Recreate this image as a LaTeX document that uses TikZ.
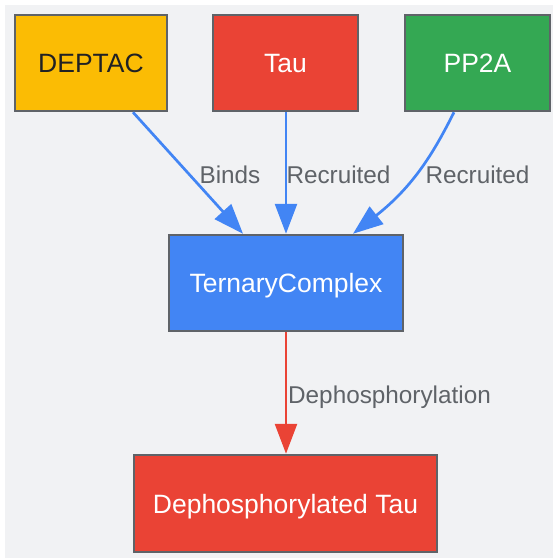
\documentclass[tikz,border=0pt]{standalone}
\usepackage{fontspec}
\setmainfont{Liberation Sans}
\usetikzlibrary{arrows.meta}
\definecolor{bgc}{HTML}{F1F2F4}
\definecolor{gyellow}{HTML}{FBBC04}
\definecolor{gred}{HTML}{EA4335}
\definecolor{ggreen}{HTML}{34A853}
\definecolor{gblue}{HTML}{4285F4}
\definecolor{bord}{HTML}{5F6368}
\definecolor{lab}{HTML}{5F6368}
\definecolor{dark}{HTML}{202124}
\tikzset{
  box/.style={draw=bord, line width=2.5pt, inner sep=0pt, text height=19pt, text depth=0pt,
    font=\fontsize{26.5}{30}\selectfont, minimum height=96pt},
  elab/.style={inner sep=0pt, text height=17.4pt, text depth=0pt, text=lab,
    font=\fontsize{24.3}{28}\selectfont},
  blueedge/.style={draw=gblue, line width=2.7pt, -{Triangle[length=30pt,width=22pt]}},
  rededge/.style={draw=gred, line width=2.7pt, -{Triangle[length=30pt,width=22pt]}},
}
\begin{document}
\begin{tikzpicture}[x=1pt,y=-1pt]
\useasboundingbox (0,0) rectangle (553,558);
\fill[white] (0,0) rectangle (553,558);
\fill[bgc] (5,5) rectangle (553,558);
\node[box, fill=gyellow, text=dark, minimum width=152pt] (dep) at (91,63) {DEPTAC};
\node[box, fill=gred, text=white, minimum width=145pt] (tau) at (285.5,63) {Tau};
\node[box, fill=ggreen, text=white, minimum width=145pt] (pp) at (477.5,63) {PP2A};
\node[box, fill=gblue, text=white, minimum width=234pt] (tc) at (286,283) {TernaryComplex};
\node[box, fill=gred, text=white, minimum width=303pt, minimum height=97pt] (dt) at (285.5,503.5) {Dephosphorylated Tau};
\draw[blueedge] ([xshift=42pt]dep.south) -- ([xshift=-43pt]tc.north);
\draw[blueedge] (tau.south -| tc.north) -- (tc.north);
\draw[blueedge] ([xshift=-23.5pt]pp.south) .. controls (435,150) and (415,185) .. ([xshift=67pt]tc.north);
\draw[rededge] (tc.south) -- (dt.north -| tc.south);
\node[elab] (l1) at (230,175) {Binds};
\node[elab] (l2) at (338.5,175) {Recruited};
\node[elab] (l3) at (477.5,175) {Recruited};
\node[elab] (l4) at (389.5,394.3) {Dephosphorylation};
\end{tikzpicture}
\end{document}
